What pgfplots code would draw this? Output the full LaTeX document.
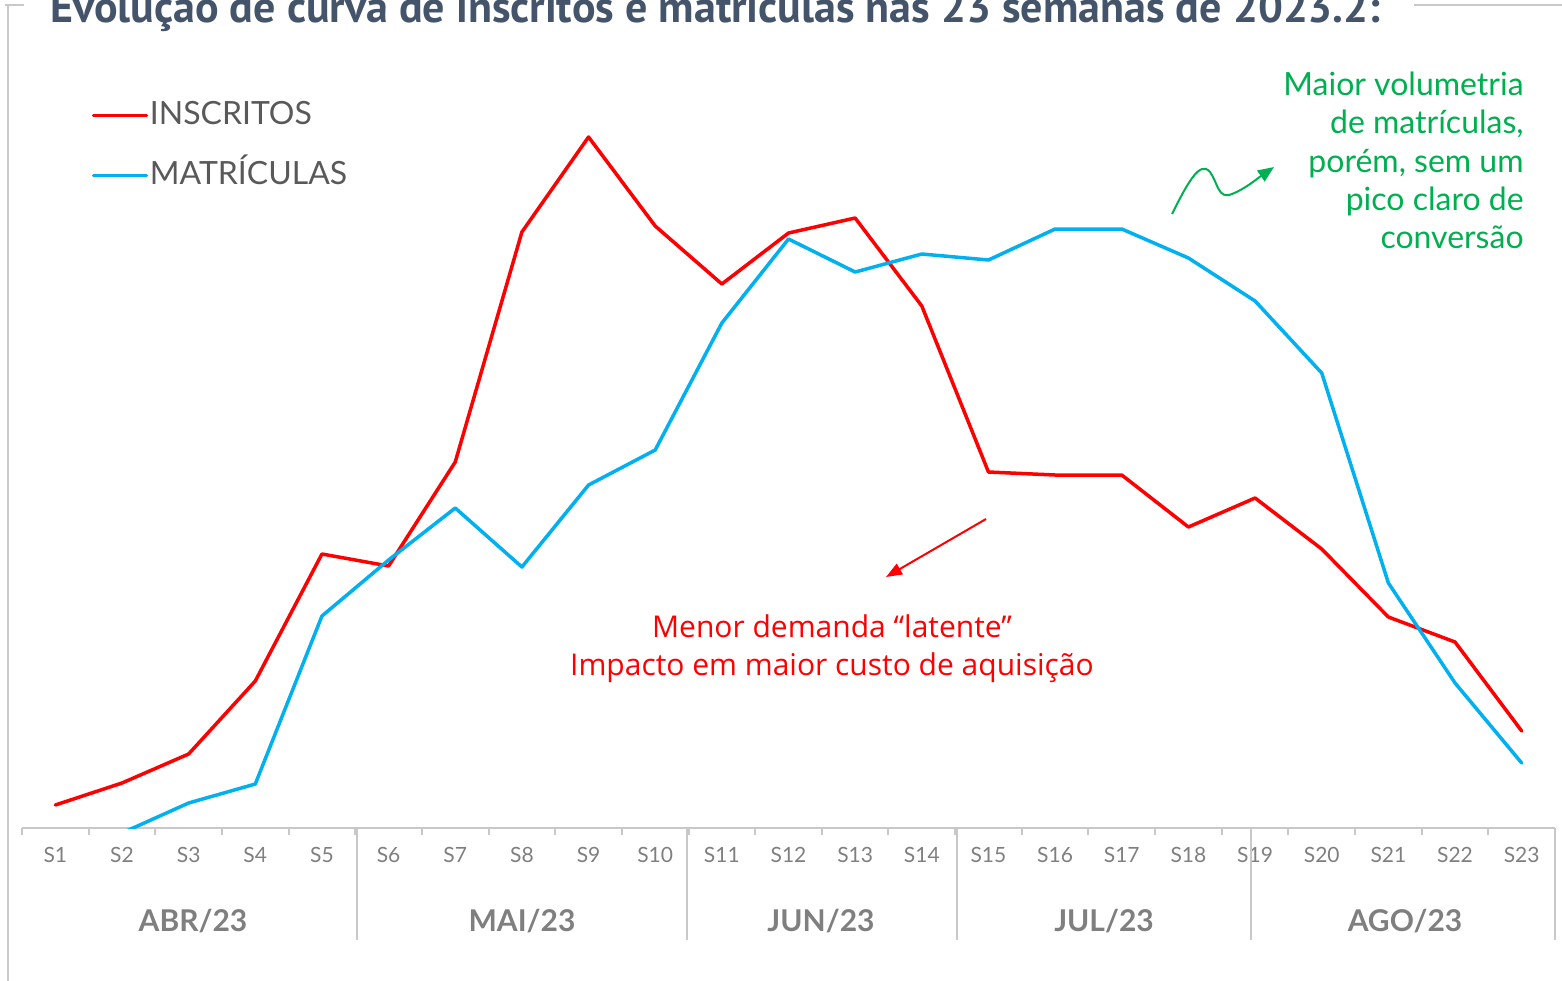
\documentclass[border=0pt]{standalone}
\usepackage{graphicx}
\usepackage{fontspec}
\setmainfont{Lato}
\newfontfamily\osans{Open Sans}
\newfontfamily\ptsans{PT Sans}
\usepackage{pgfplots}
\pgfplotsset{compat=1.18}
\usetikzlibrary{arrows.meta}
\definecolor{cred}{HTML}{FF0000}
\definecolor{cblue}{HTML}{00B0F0}
\definecolor{cgreen}{HTML}{00B050}
\definecolor{ctitle}{HTML}{44546A}
\definecolor{clegend}{HTML}{595959}
\definecolor{ctick}{HTML}{7F7F7F}
\definecolor{caxis}{HTML}{C8C8C8}
\begin{document}
\begin{tikzpicture}
\begin{axis}[
  at={(11pt,-414pt)}, anchor=south west,
  width=766.5pt, height=414pt, scale only axis,
  xmin=0.5, xmax=23.5, ymin=0, ymax=828,
  axis y line=none, axis x line*=bottom,
  x axis line style={-, draw=caxis, line width=1pt},
  xtick={1,...,23},
  xticklabels={S1,S2,S3,S4,S5,S6,S7,S8,S9,S10,S11,S12,S13,S14,S15,S16,S17,S18,S19,S20,S21,S22,S23},
  major tick length=0pt,
  minor xtick={0.5,1.5,...,23.5},
  minor tick length=3.5pt,
  tick align=outside,
  xtick pos=bottom,
  minor x tick style={draw=caxis, line width=1pt},
  xticklabel style={font=\fontsize{10.5}{12}\selectfont, text=ctick, anchor=base, yshift=-17.25pt},
  legend cell align=left,
  legend image code/.code={\draw[#1] (0pt,0.5pt)--(26.5pt,0.5pt);},
  legend style={at={(0.0455,0.8777)}, anchor=north west, draw=none, fill=none,
    inner sep=0pt, outer sep=0pt, row sep=15pt,
    font=\fontsize{16}{19}\selectfont, text=clegend,
    nodes={inner sep=0pt, text height=11.5pt, text depth=3.5pt},
    /tikz/every odd column/.append style={column sep=0.8pt}},
]
\addplot[cred, line width=1.75pt, line join=round, line cap=round] table {
x y
1 23
2 45
3 74
4 147
5 274
6 262
7 366
8 596
9 691
10 602
11 544
12 595
13 610
14 522
15 356
16 353
17 353
18 301
19 330
20 279
21 211
22 186
23 97
};
\addlegendentry{INSCRITOS}
\addplot[cblue, line width=1.75pt, line join=round, line cap=round] table {
x y
1 -40
2 -5
3 25
4 44
5 212
6 268
7 320
8 261
9 343
10 378
11 505
12 589
13 556
14 574
15 568
16 599
17 599
18 570
19 527
20 455
21 245
22 145
23 65
};
\addlegendentry{MATRÍCULAS}
\end{axis}
\begin{scope}[x=0.5pt, y=-0.5pt]
  % frame
  \draw[caxis, line width=1.2pt] (5,5) -- (24,5);
  \draw[caxis, line width=1.2pt] (8,5) -- (8,1000);
  \draw[caxis, line width=1.2pt] (1414,5) -- (1570,5);
  % title
  \node[anchor=base west, inner sep=0pt, text=ctitle] at (50,22)
    {\resizebox{665pt}{!}{\ptsans\bfseries Evolução de curva de inscritos e matrículas nas 23 semanas de 2023.2:}};
  % month separators
  \foreach \xx in {357,687,957,1251,1555} {
    \draw[caxis, line width=1pt] (\xx,828) -- (\xx,940);
  }
  % month labels
  \foreach \xx/\lab in {193/{ABR/23},522/{MAI/23},821/{JUN/23},1104/{JUL/23},1405/{AGO/23}} {
    \node[anchor=base, inner sep=0pt, text=ctick, font=\fontsize{15}{18}\selectfont\bfseries] at (\xx,931) {\lab};
  }
  % red annotation
  \draw[cred, line width=1pt, -{Triangle[length=8pt,width=6pt]}] (986,519) -- (886,577);
  \node[anchor=base, inner sep=0pt, text=cred, font=\osans\fontsize{15}{18}\selectfont] at (832,637) {Menor demanda “latente”};
  \node[anchor=base, inner sep=0pt, text=cred, font=\osans\fontsize{15}{18}\selectfont] at (832,675) {Impacto em maior custo de aquisição};
  % green annotation
  \draw[cgreen, line width=1pt, -{Triangle[length=8pt,width=6.5pt]}]
    (1172,214) .. controls (1188,182) and (1200,160) .. (1210,172)
    .. controls (1218,183) and (1218,200) .. (1232,194)
    .. controls (1245,189) and (1258,178) .. (1274,167);
  \foreach \yy/\txt in {95/Maior volumetria,133/de matrículas{,},172/{porém, sem um},210/pico claro de,248/conversão} {
    \node[anchor=base east, inner sep=0pt, text=cgreen, font=\fontsize{16}{19}\selectfont] at (1524,\yy) {\txt};
  }
\end{scope}
\pgfresetboundingbox
\path[use as bounding box] (0pt,0pt) rectangle (781pt,-490pt);
\end{tikzpicture}
\end{document}
